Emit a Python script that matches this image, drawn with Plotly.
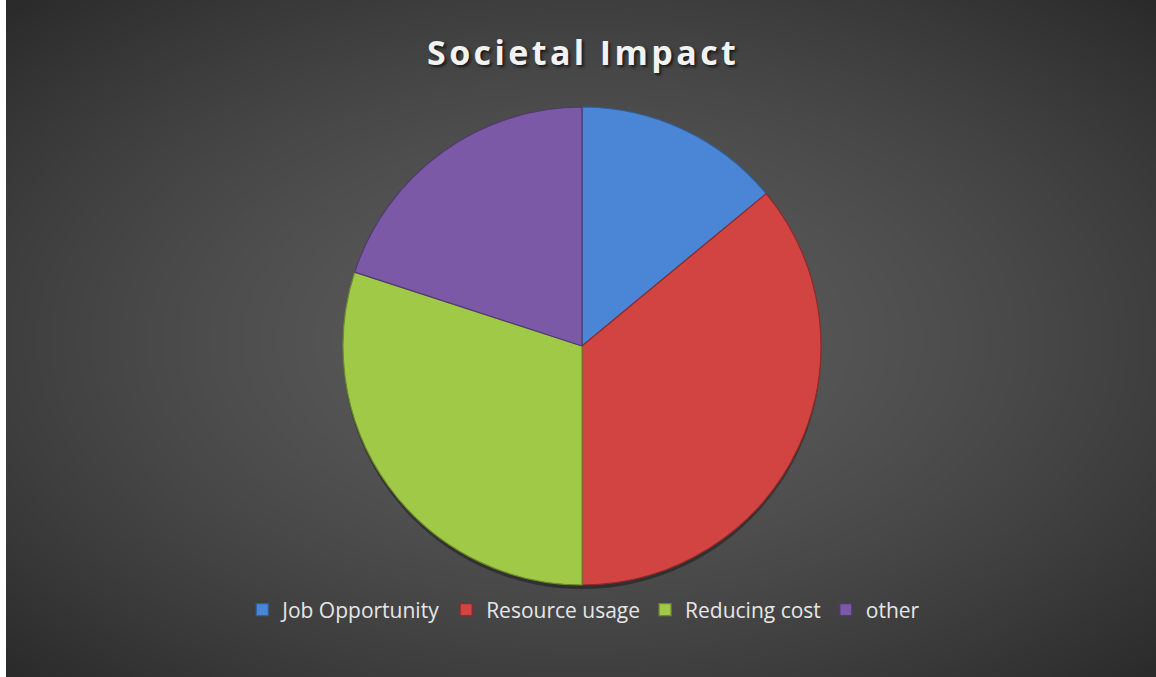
import numpy as np
import plotly.graph_objects as go

# Chart data
categories = ["Job Opportunity", "Resource usage", "Reducing cost", "other"]
values = [14, 36, 30, 20]
slice_colors = ["#4a85d6", "#d24441", "#a0c947", "#7b59a7"]
edge_colors = ["#2f5f9e", "#8e2a28", "#6c8a2c", "#4f3a70"]
title_text = "Societal Impact"

W, H = 1156, 677

# Radial backdrop: bright centre fading to dark corners
gx = np.linspace(0, W, 146)
gy = np.linspace(0, H, 86)
X, Y = np.meshgrid(gx, gy)
cx, cy = 582, H - 340
d = np.sqrt(((X - cx) / (W / 2)) ** 2 + ((Y - cy) / (H / 2)) ** 2)
shade = 92 - 30 * d ** 1.5

fig = go.Figure()
fig.add_trace(go.Heatmap(
    x=gx, y=gy, z=shade, zmin=0, zmax=255, zsmooth="best",
    colorscale=[[0, "rgb(0,0,0)"], [1, "rgb(255,255,255)"]],
    showscale=False, hoverinfo="skip",
))

# Pie placement in paper coordinates
px0, px1 = 343 / W, 821 / W
py0, py1 = 1 - 585 / H, 1 - 107 / H
sh = 4 / H

# Soft shadow beneath the pie
fig.add_trace(go.Pie(
    values=[1], labels=["shadow"], sort=False, showlegend=False,
    marker=dict(colors=["rgba(0,0,0,0.35)"], line=dict(width=0)),
    textinfo="none", hoverinfo="skip",
    domain=dict(x=[px0, px1], y=[py0 - sh, py1 - sh]),
))

fig.add_trace(go.Pie(
    labels=categories, values=values, sort=False, direction="clockwise",
    rotation=0,
    marker=dict(colors=slice_colors, line=dict(color=edge_colors, width=1.2)),
    textinfo="none",
    domain=dict(x=[px0, px1], y=[py0, py1]),
))

# Left edge strip
fig.add_shape(type="rect", x0=0, x1=6, y0=0, y1=H, xref="x", yref="y",
              fillcolor="white", line=dict(width=0), layer="above")

# Title, letter-spaced, with drop shadow
spaced_title = "\u200a".join(title_text)
fig.add_annotation(
    x=W / 2 + 3, y=H - 52, xref="x", yref="y",
    text=f"<b>{spaced_title}</b>", showarrow=False,
    font=dict(family="Open Sans", size=34, color="#f2f2f2",
              shadow="2px 2px 3px rgba(0,0,0,0.65)"),
)

fig.update_layout(
    width=W, height=H,
    margin=dict(l=0, r=0, t=0, b=0),
    paper_bgcolor="#2a2a2a", plot_bgcolor="#2a2a2a",
    xaxis=dict(range=[0, W], visible=False, fixedrange=True),
    yaxis=dict(range=[0, H], visible=False, fixedrange=True),
    showlegend=True,
    legend=dict(
        orientation="h", x=0.505, xanchor="center", y=1 - 610 / H, yanchor="middle",
        font=dict(family="Open Sans", size=21, color="#e6e6e6"),
        bgcolor="rgba(0,0,0,0)", itemwidth=30,
    ),
)

fig.write_html("out.html")
